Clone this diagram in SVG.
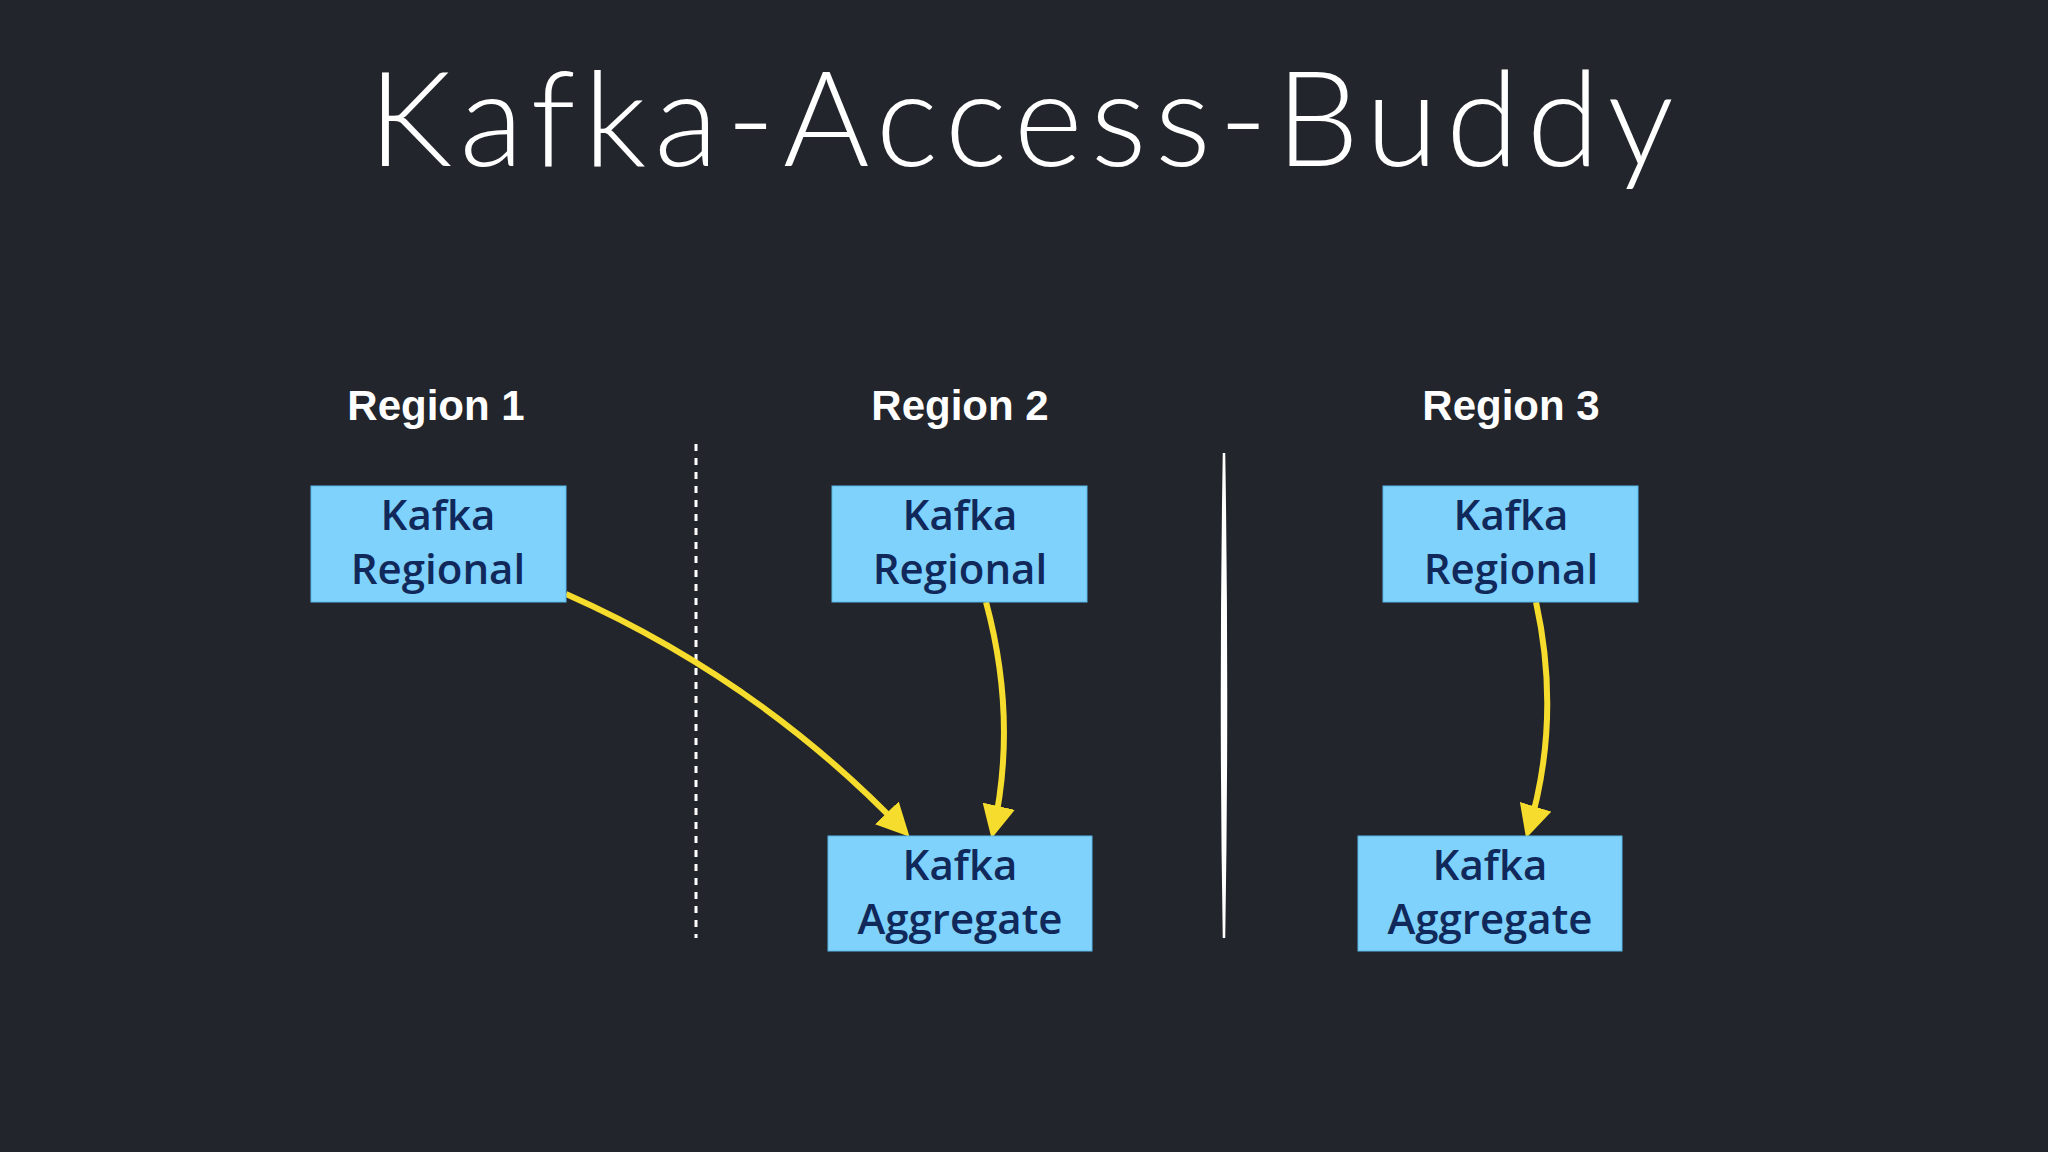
<svg xmlns="http://www.w3.org/2000/svg" width="2048" height="1152" viewBox="0 0 2048 1152">
<style>
.box{fill:#7fd2fb;stroke:#5bb8e8;stroke-width:1}
.bt{font-family:"Open Sans","Liberation Sans",sans-serif;font-weight:600;font-size:42px;fill:#10295a;text-anchor:middle}
.rl{font-family:"Liberation Sans",sans-serif;font-weight:bold;font-size:42px;fill:#fff;text-anchor:middle}
.ar{fill:none;stroke:#f6dc2c;stroke-width:6}
</style>
<defs><marker id="ah" viewBox="0 0 10 10" refX="8" refY="5" markerWidth="5.5" markerHeight="5.5" markerUnits="strokeWidth" orient="auto"><path d="M0,0 L10,5 L0,10 z" fill="#f6dc2c"/></marker></defs>
<rect width="2048" height="1152" fill="#22252b"/>
<text x="1025" y="166" font-family="Lato,'Liberation Sans',sans-serif" font-weight="300" font-size="132" letter-spacing="8" fill="#fff" text-anchor="middle">Kafka-Access-Buddy</text>
<text class="rl" x="436" y="420">Region 1</text>
<text class="rl" x="960" y="420">Region 2</text>
<text class="rl" x="1511" y="420">Region 3</text>
<line x1="696" y1="444" x2="696" y2="938" stroke="#fff" stroke-width="3" stroke-dasharray="7,7"/>
<path d="M1224,453 Q1220,700 1224,938 Q1228,700 1224,453 Z" fill="#fff" stroke="#fff" stroke-width="2.5"/>
<g id="connectors">
<path class="ar" d="M566,594 Q760,680 905,832" marker-end="url(#ah)"/>
<path class="ar" d="M986,602 Q1018,720 993,832" marker-end="url(#ah)"/>
<path class="ar" d="M1536,602 Q1562,720 1528,832" marker-end="url(#ah)"/>
</g>
<g id="r1reg"><rect class="box" x="311" y="486" width="255" height="116"/><text class="bt" x="438" y="530">Kafka</text><text class="bt" x="438" y="584">Regional</text></g>
<g id="r2reg"><rect class="box" x="832" y="486" width="255" height="116"/><text class="bt" x="960" y="530">Kafka</text><text class="bt" x="960" y="584">Regional</text></g>
<g id="r3reg"><rect class="box" x="1383" y="486" width="255" height="116"/><text class="bt" x="1511" y="530">Kafka</text><text class="bt" x="1511" y="584">Regional</text></g>
<g id="r2agg"><rect class="box" x="828" y="836" width="264" height="115"/><text class="bt" x="960" y="880">Kafka</text><text class="bt" x="960" y="934">Aggregate</text></g>
<g id="r3agg"><rect class="box" x="1358" y="836" width="264" height="115"/><text class="bt" x="1490" y="880">Kafka</text><text class="bt" x="1490" y="934">Aggregate</text></g>
</svg>
